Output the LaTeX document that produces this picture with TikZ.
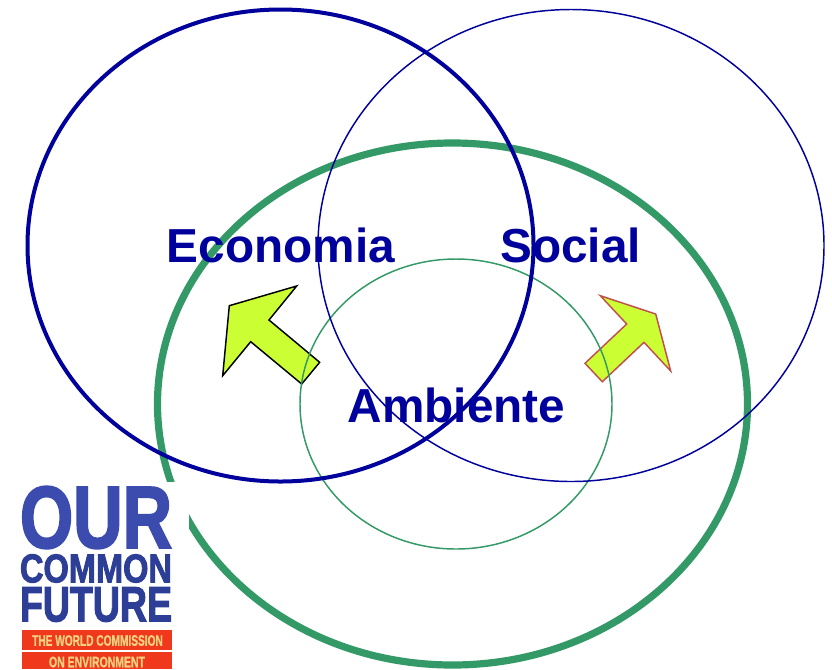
\documentclass[tikz,border=0pt]{standalone}
\usepackage{fontspec}
\setmainfont{Liberation Sans}
\newfontfamily\heavyfont[FakeBold=2.5]{Liberation Sans Bold}
\newfontfamily\midfont[FakeBold=1]{Liberation Sans Bold}
\definecolor{dkblue}{HTML}{00009C}
\definecolor{grn}{HTML}{339966}
\definecolor{lime}{HTML}{CCFF33}
\definecolor{redline}{HTML}{C0504D}
\definecolor{coverA}{HTML}{3B4CAE}
\definecolor{coverB}{HTML}{2D3E96}
\definecolor{coverRed}{HTML}{F0391C}
\definecolor{coverTxt}{HTML}{F7D080}
\newcommand{\fitbox}[3]{\resizebox{#1pt}{#2pt}{#3}}
\tikzset{
  x=0.75pt,y=-0.75pt,
  bigtext/.style={font=\fontsize{35.8}{40}\selectfont\bfseries,text=dkblue,inner sep=0pt},
  covertext/.style={inner sep=0pt},
  arrowshape/.style={fill=lime,line width=1.1pt,line join=miter},
}
\begin{document}
\begin{tikzpicture}
\useasboundingbox (0,0) rectangle (832,669);
\fill[white] (0,0) rectangle (832,669);
% arrows
\draw[arrowshape,draw=black] (296.7,286) -- (229.3,305.7) -- (222.7,375.7) -- (250.7,341.7) -- (301.7,384) -- (319.7,362.3) -- (269,320) -- cycle;
\draw[arrowshape,draw=redline] (600.3,295.7) -- (655.7,314) -- (670.7,371) -- (644,342.3) -- (602.3,381.7) -- (585,363.3) -- (626.7,324) -- cycle;
% circles
\draw[grn,line width=5.4pt] (452.5,404) ellipse [x radius=295,y radius=261];
\draw[grn,line width=1.1pt] (456,404) ellipse [x radius=156,y radius=145];
\draw[dkblue,line width=1.1pt] (571,245.5) ellipse [x radius=253,y radius=236];
\draw[dkblue,line width=3pt] (280.5,245.5) ellipse [x radius=253,y radius=236];
% labels
\node[bigtext] (eco) at (281,245.5) {Economia};
\node[bigtext] (soc) at (570.5,245.5) {Social};
\node[bigtext] (amb) at (456.5,405.5) {Ambiente};
% book cover
\fill[white] (0,482) rectangle (189,669);
\fill[coverRed] (22,630) rectangle (172,650);
\fill[coverRed] (22,652) rectangle (172,669);
\node[covertext,text=coverA] (our) at (96,517.5) {\fitbox{114}{46}{\heavyfont OUR}};
\node[covertext,text=coverB] (common) at (96,568.5) {\fitbox{114}{21}{\heavyfont COMMON}};
\node[covertext,text=coverB] (future) at (96,604.5) {\fitbox{114}{25.5}{\heavyfont FUTURE}};
\node[covertext,text=coverTxt] (wc) at (97.5,640.5) {\fitbox{98}{8}{\midfont THE WORLD COMMISSION}};
\node[covertext,text=coverTxt] (env) at (97,662) {\fitbox{72}{8}{\midfont ON ENVIRONMENT}};
\end{tikzpicture}
\end{document}
